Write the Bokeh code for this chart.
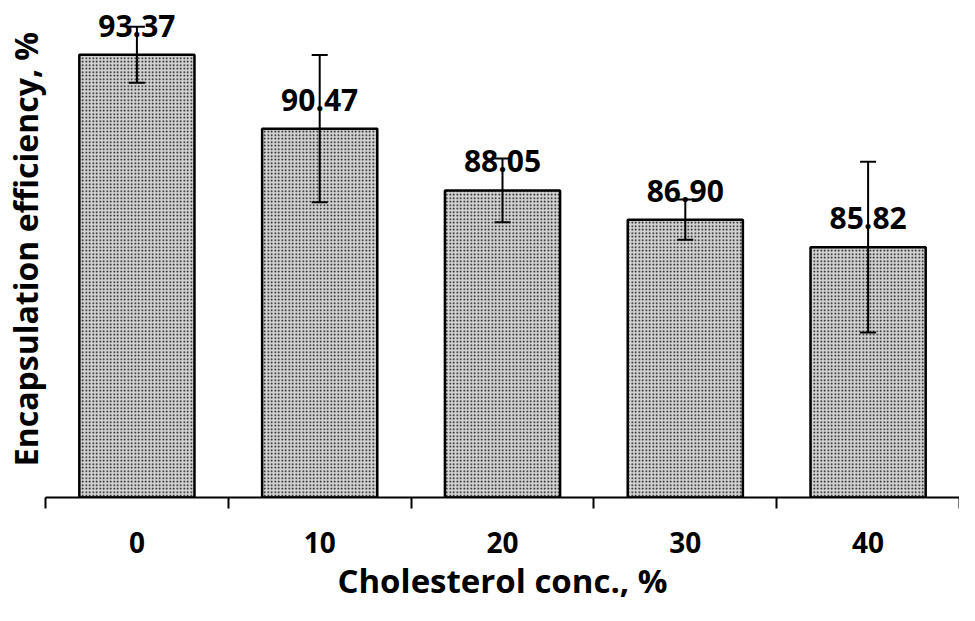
from bokeh.plotting import figure
from bokeh.models import Range1d, FixedTicker, ColumnDataSource, Whisker, TeeHead, LabelSet
from bokeh.core.properties import value
from bokeh.embed import file_html
from bokeh.resources import INLINE

categories = ["0", "10", "20", "30", "40"]
efficiency = [93.37, 90.47, 88.05, 86.90, 85.82]
errors = [1.10, 2.89, 1.25, 0.79, 3.35]
labels = ["93.37", "90.47", "88.05", "86.90", "85.82"]

FONT = "Open Sans"

xpos = [i + 0.5 for i in range(len(categories))]
src = ColumnDataSource(dict(
    x=xpos,
    top=efficiency,
    upper=[v + e for v, e in zip(efficiency, errors)],
    lower=[v - e for v, e in zip(efficiency, errors)],
    label=labels,
))

p = figure(width=959, height=605, output_backend="svg", toolbar_location=None,
           x_range=Range1d(0, len(categories)), y_range=Range1d(76, 95.5),
           min_border=0, min_border_left=37, min_border_right=0, min_border_top=0, min_border_bottom=0)
p.outline_line_color = None
p.grid.visible = False
p.background_fill_color = "white"

p.vbar(x="x", top="top", bottom=76, width=0.63, source=src,
       fill_color="#d4d4d4", line_color="black", line_width=2.5,
       hatch_pattern="dot", hatch_color="black", hatch_scale=3.5, hatch_weight=2.4, hatch_alpha=1.0)

w = Whisker(base="x", upper="upper", lower="lower", source=src, level="overlay",
            line_color="black", line_width=2,
            upper_head=TeeHead(size=16, line_width=2, line_color="black"),
            lower_head=TeeHead(size=16, line_width=2, line_color="black"))
p.add_layout(w)

lbl = LabelSet(x="x", y="top", text="label", source=src, text_align="center",
               text_baseline="alphabetic", y_offset=18, text_font=value(FONT),
               text_font_style="bold", text_font_size="30px", text_color="black",
               level="overlay")
p.add_layout(lbl)

xa = p.xaxis[0]
xa.ticker = FixedTicker(ticks=xpos, minor_ticks=list(range(len(categories) + 1)))
xa.major_label_overrides = {x: c for x, c in zip(xpos, categories)}
xa.major_tick_out = 0
xa.major_tick_in = 0
xa.minor_tick_out = 11
xa.minor_tick_in = 0
xa.minor_tick_line_width = 2
xa.minor_tick_line_color = "black"
xa.axis_line_width = 2
xa.axis_line_color = "black"
xa.major_label_standoff = 23
xa.major_label_text_font = FONT
xa.major_label_text_font_style = "bold"
xa.major_label_text_font_size = "28px"
xa.major_label_text_color = "black"
xa.axis_label = "Cholesterol conc., %"
xa.axis_label_text_font = FONT
xa.axis_label_text_font_style = "bold"
xa.axis_label_text_font_size = "33px"
xa.axis_label_text_color = "black"
xa.axis_label_standoff = 2

ya = p.yaxis[0]
ya.ticker = FixedTicker(ticks=[])
ya.axis_line_color = None
ya.major_tick_out = 0
ya.major_tick_in = 0
ya.minor_tick_out = 0
ya.minor_tick_in = 0
ya.major_label_standoff = 0
ya.axis_label = "Encapsulation efficiency, %"
ya.axis_label_text_font = FONT
ya.axis_label_text_font_style = "bold"
ya.axis_label_text_font_size = "32px"
ya.axis_label_text_color = "black"
ya.axis_label_standoff = -1

open("out.html", "w").write(file_html(p, INLINE))
